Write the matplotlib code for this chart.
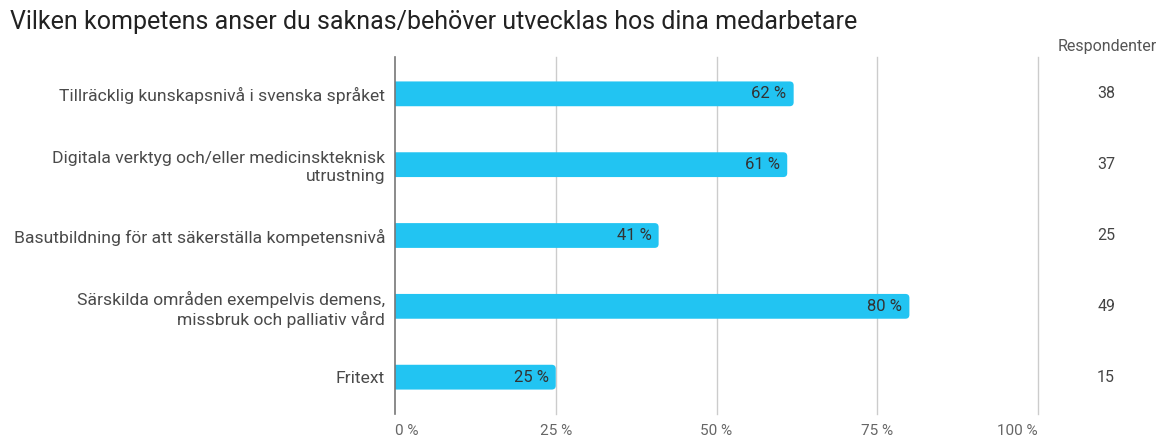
import matplotlib
matplotlib.use("Agg")
import matplotlib.pyplot as plt
from matplotlib.patches import FancyBboxPatch
from matplotlib.transforms import blended_transform_factory

plt.rcParams['font.family'] = ['Roboto', 'DejaVu Sans']

title = "Vilken kompetens anser du saknas/behöver utvecklas hos dina medarbetare"
categories = [
    "Tillräcklig kunskapsnivå i svenska språket",
    "Digitala verktyg och/eller medicinskteknisk\nutrustning",
    "Basutbildning för att säkerställa kompetensnivå",
    "Särskilda områden exempelvis demens,\nmissbruk och palliativ vård",
    "Fritext",
]
percent = [62, 61, 41, 80, 25]
respondents = [38, 37, 25, 49, 15]
xticks = [0, 25, 50, 75, 100]
xticklabels = ["0 %", "25 %", "50 %", "75 %", "100 %"]

BAR_COLOR = "#22c4f2"

fig = plt.figure(figsize=(11.64, 4.37), dpi=100)
ax = fig.add_axes([395 / 1164, 1 - 414 / 437, (1038 - 395) / 1164, (414 - 57) / 437])

ypos = list(range(len(categories)))
bars = ax.barh(ypos, percent, height=0.35, color="none", edgecolor="none")

px_x = (1038 - 395) / 100.0
px_y = (414 - 57) / 5.0
for b in bars:
    x0, y0, w, h = b.get_x(), b.get_y(), b.get_width(), b.get_height()
    r = 4.0 / px_x
    p = FancyBboxPatch((x0 - 2, y0), w + 2, h,
                       boxstyle=f"round,pad=0,rounding_size={r}",
                       mutation_aspect=px_x / px_y,
                       facecolor=BAR_COLOR, edgecolor="none", zorder=3)
    ax.add_patch(p)
    ax.text(w - 1.1, b.get_y() + h / 2, f"{w:.0f} %", ha="right", va="center",
            fontsize=12, color="#333333", zorder=4)

ax.set_xlim(0, 100)
ax.set_ylim(4.52, -0.52)
ax.set_xticks(xticks)
ax.set_xticklabels(xticklabels, fontsize=11, color="#666666")
xtl = ax.get_xticklabels()
xtl[0].set_ha("left")
xtl[-1].set_ha("right")
ax.set_yticks(ypos)
ax.set_yticklabels(categories, fontsize=12.6, color="#4a4a4a")
ax.tick_params(axis="both", length=0)
ax.tick_params(axis="y", pad=7.2)
ax.tick_params(axis="x", pad=7)
for lbl in ax.get_yticklabels():
    lbl.set_multialignment("right")

for s in ["top", "right", "bottom"]:
    ax.spines[s].set_visible(False)
ax.spines["left"].set_color("#777777")
ax.spines["left"].set_linewidth(1.2)
ax.spines["left"].set_zorder(5)
ax.grid(False)
for xt in xticks[1:]:
    ax.axvline(xt, color="#cccccc", linewidth=1, zorder=0, clip_on=False)

fig.text(10 / 1164, 1 - 22 / 437, title, fontsize=18, color="#222222",
         ha="left", va="center")

fig.text(1107 / 1164, 1 - 47 / 437, "Respondenter", fontsize=11.5,
         color="#555555", ha="center", va="center")
trans = blended_transform_factory(fig.transFigure, ax.transData)
for y, n in zip(ypos, respondents):
    ax.text(1106 / 1164, y, str(n), transform=trans,
            fontsize=11.5, color="#444444", ha="center", va="center")

fig.savefig("out.png", dpi=100)
